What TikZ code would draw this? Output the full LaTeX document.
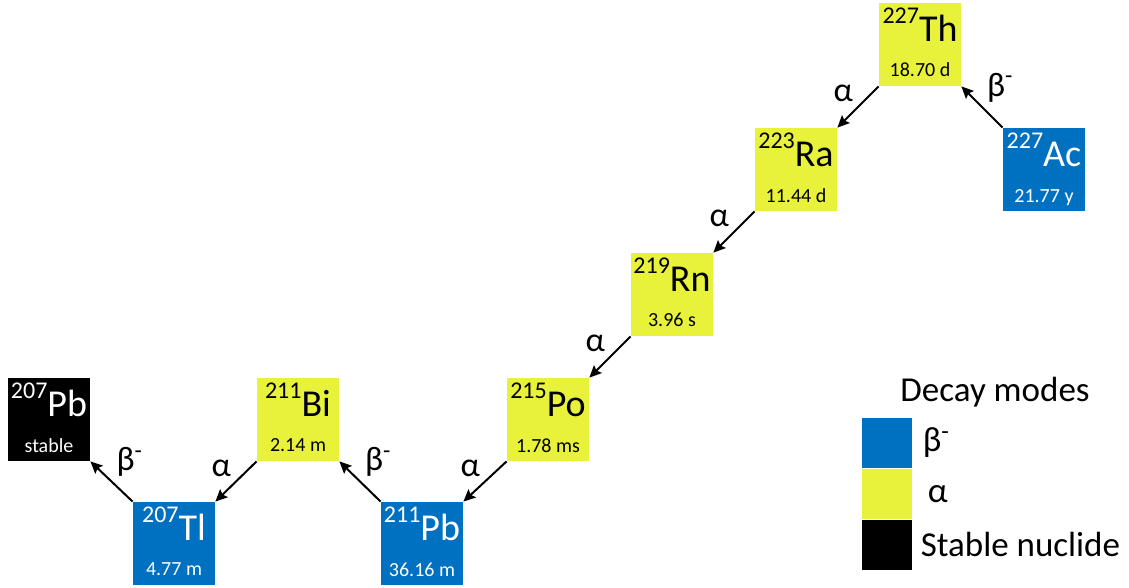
\documentclass[tikz,border=0pt]{standalone}
\usepackage{fontspec}
\setmainfont{Carlito}
\usetikzlibrary{arrows.meta,positioning}
\definecolor{BetaBlue}{HTML}{0070C0}
\definecolor{AlphaYellow}{HTML}{E9F23B}

% mass number, symbol, half-life inside a nuclide box
\newcommand{\iso}[3]{\parbox[c][41.5pt][t]{41pt}{\centering\offinterlineskip
  \rule{0pt}{19.5pt}{\fontsize{12}{12}\selectfont\raisebox{9pt}{#1}}{\fontsize{19}{19}\selectfont #2}\par
  \rule{0pt}{17.5pt}{\fontsize{10}{10}\selectfont #3}\par}}

\begin{document}
\begin{tikzpicture}[x=0.5pt,y=0.5pt,
  nuc/.style={rectangle,inner sep=0pt,minimum width=41pt,minimum height=41.5pt},
  betanuc/.style={nuc,fill=BetaBlue,text=white},
  alphanuc/.style={nuc,fill=AlphaYellow,text=black},
  stablenuc/.style={nuc,fill=black,text=white},
  decay/.style={-{Stealth[length=6pt,width=5.5pt,inset=1pt]},line width=1pt},
  mode/.style={font=\fontsize{17}{17}\selectfont,inner sep=2pt},
  keybox/.style={rectangle,inner sep=0pt,minimum size=25pt},
  keytext/.style={font=\fontsize{17.5}{17.5}\selectfont,inner sep=0pt,anchor=west}]
  \useasboundingbox (0,0) rectangle (1129,588);
  % Decay chain of actinium-227
  \node[alphanuc]  (th227) at (920,543.5) {\iso{227}{Th}{18.70 d}};
  \node[betanuc]   (ac227) at (1044,418.5) {\iso{227}{Ac}{21.77 y}};
  \node[alphanuc]  (ra223) at (796,418.5) {\iso{223}{Ra}{11.44 d}};
  \node[alphanuc]  (rn219) at (672,293.5) {\iso{219}{Rn}{3.96 s}};
  \node[alphanuc]  (po215) at (548,168.5) {\iso{215}{Po}{1.78 ms}};
  \node[betanuc]   (pb211) at (422,44.5)  {\iso{211}{Pb}{36.16 m}};
  \node[alphanuc]  (bi211) at (298,168.5) {\iso{211}{Bi}{2.14 m}};
  \node[betanuc]   (tl207) at (174,44.5)  {\iso{207}{Tl}{4.77 m}};
  \node[stablenuc] (pb207) at (49,168.5)  {\iso{207}{Pb}{stable}};
  % Transitions
  \draw[decay] (ac227.north west) -- node[mode,above right]{β\textsuperscript{-}} (th227.south east);
  \draw[decay] (th227.south west) -- node[mode,above left]{α} (ra223.north east);
  \draw[decay] (ra223.south west) -- node[mode,above left]{α} (rn219.north east);
  \draw[decay] (rn219.south west) -- node[mode,above left]{α} (po215.north east);
  \draw[decay] (po215.south west) -- node[mode,above left]{α} (pb211.north east);
  \draw[decay] (pb211.north west) -- node[mode,above right]{β\textsuperscript{-}} (bi211.south east);
  \draw[decay] (bi211.south west) -- node[mode,above left]{α} (tl207.north east);
  \draw[decay] (tl207.north west) -- node[mode,above right]{β\textsuperscript{-}} (pb207.south east);
  % Legend
  \node[font=\fontsize{17.5}{17.5}\selectfont] (keytitle) at (995,196) {Decay modes};
  \node[keybox,fill=BetaBlue] (keybeta) at (887,145) {};
  \node[keybox,fill=AlphaYellow,below=0pt of keybeta] (keyalpha) {};
  \node[keybox,fill=black,below=0pt of keyalpha] (keystable) {};
  \node[keytext,right=5pt of keybeta] (keybetatext) {β\textsuperscript{-}};
  \node[keytext,right=7.5pt of keyalpha] (keyalphatext) {α};
  \node[keytext,right=4pt of keystable] (keystabletext) {Stable nuclide};
\end{tikzpicture}
\end{document}
